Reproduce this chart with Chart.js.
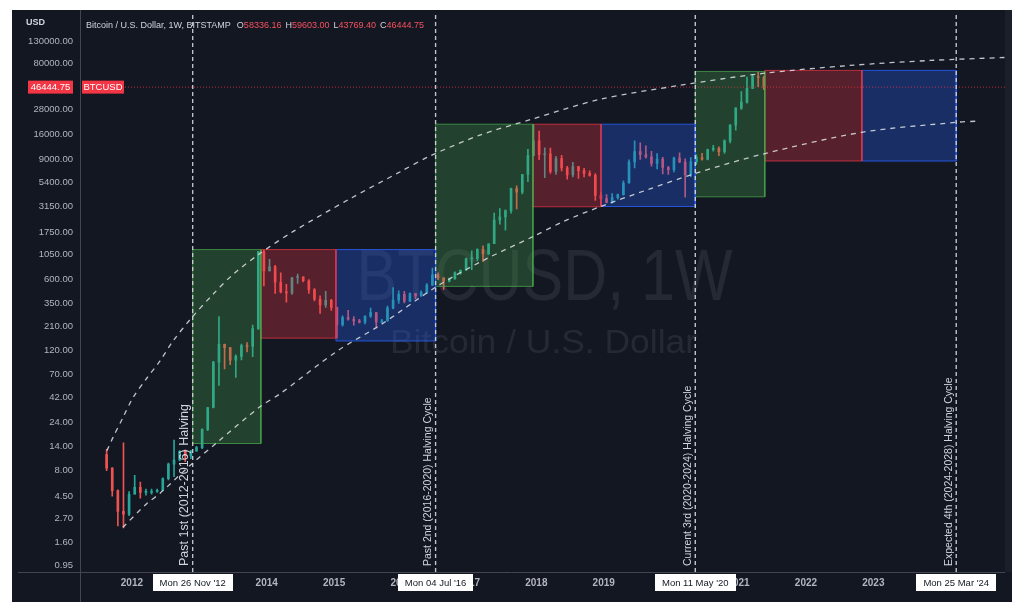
<!DOCTYPE html>
<html>
<head>
<meta charset="utf-8">
<title>BTCUSD 1W halving cycles</title>
<script src="https://cdn.jsdelivr.net/npm/chart.js@4.4.1/dist/chart.umd.min.js"></script>
<style>
  html, body { margin: 0; padding: 0; background: #ffffff; }
  #wrap { width: 1024px; height: 613px; }
</style>
</head>
<body>
<div id="wrap"><canvas id="chart" width="1024" height="613"></canvas></div>
<script>
const FONT = '"Liberation Sans", Arial, sans-serif';
const BG = '#131722';
const UP = '#26a69a';
const DOWN = '#ef5350';

// monthly candles
const months = [
  '2011-08', '2011-09', '2011-10', '2011-11', '2011-12',
  '2012-01', '2012-02', '2012-03', '2012-04', '2012-05', '2012-06', '2012-07', '2012-08', '2012-09', '2012-10', '2012-11', '2012-12',
  '2013-01', '2013-02', '2013-03', '2013-04', '2013-05', '2013-06', '2013-07', '2013-08', '2013-09', '2013-10', '2013-11', '2013-12',
  '2014-01', '2014-02', '2014-03', '2014-04', '2014-05', '2014-06', '2014-07', '2014-08', '2014-09', '2014-10', '2014-11', '2014-12',
  '2015-01', '2015-02', '2015-03', '2015-04', '2015-05', '2015-06', '2015-07', '2015-08', '2015-09', '2015-10', '2015-11', '2015-12',
  '2016-01', '2016-02', '2016-03', '2016-04', '2016-05', '2016-06', '2016-07', '2016-08', '2016-09', '2016-10', '2016-11', '2016-12',
  '2017-01', '2017-02', '2017-03', '2017-04', '2017-05', '2017-06', '2017-07', '2017-08', '2017-09', '2017-10', '2017-11', '2017-12',
  '2018-01', '2018-02', '2018-03', '2018-04', '2018-05', '2018-06', '2018-07', '2018-08', '2018-09', '2018-10', '2018-11', '2018-12',
  '2019-01', '2019-02', '2019-03', '2019-04', '2019-05', '2019-06', '2019-07', '2019-08', '2019-09', '2019-10', '2019-11', '2019-12',
  '2020-01', '2020-02', '2020-03', '2020-04', '2020-05', '2020-06', '2020-07', '2020-08', '2020-09', '2020-10', '2020-11', '2020-12',
  '2021-01', '2021-02', '2021-03', '2021-04', '2021-05'
];
const firstOpen = 11.5;
const closes = [
  8.5, 5.1, 3.2, 3.0, 4.7,
  5.5, 4.9, 4.9, 5.0, 5.15, 6.7, 9.3, 10.2, 12.4, 11.2, 12.5, 13.5,
  20.4, 33.4, 93, 139, 129, 97, 106, 135, 133, 198, 1130, 730,
  800, 565, 455, 445, 630, 640, 585, 480, 385, 338, 375, 320,
  217, 255, 245, 236, 230, 263, 285, 230, 236, 315, 377, 430,
  368, 437, 416, 448, 530, 670, 625, 575, 609, 700, 742, 960,
  965, 1190, 1075, 1350, 2300, 2480, 2850, 4700, 4330, 6450, 9900, 13800,
  10100, 10300, 6930, 9250, 7500, 6400, 7730, 7030, 6620, 6320, 4020, 3740,
  3440, 3820, 4100, 5320, 8560, 10800, 10100, 9600, 8300, 9150, 7550, 7200,
  9350, 8550, 6420, 8630, 9450, 9140, 11340, 11650, 10780, 13800, 19700, 28900,
  33100, 45200, 58800, 57700, 46444.75
];
const highs = [
  13, 8.6, 5.2, 15, 5,
  7.2, 6.2, 5.3, 5.3, 5.3, 6.8, 9.5, 16, 12.6, 12.8, 12.7, 13.9,
  20.6, 33.5, 95, 260, 140, 130, 110, 140, 145, 215, 1140, 1170,
  950, 830, 700, 540, 630, 680, 640, 600, 490, 415, 460, 385,
  320, 265, 300, 260, 245, 265, 315, 285, 245, 330, 500, 465,
  460, 445, 440, 465, 550, 780, 700, 625, 620, 715, 750, 975,
  1150, 1200, 1290, 1350, 2700, 2980, 2900, 4750, 4980, 6470, 11400, 19800,
  17200, 11800, 11700, 9750, 9950, 7750, 8500, 7760, 7400, 7000, 6600, 4300,
  4100, 4200, 4140, 5600, 9000, 13800, 13200, 12300, 10900, 10350, 9500, 7750,
  9550, 10500, 9200, 9450, 10050, 10400, 11450, 12450, 12050, 14100, 19900, 29300,
  41950, 58300, 61700, 64850, 59603
];
const lows = [
  8, 4.5, 2.3, 2.2, 2.9,
  4.7, 4.3, 4.6, 4.7, 4.9, 5.1, 6.5, 7, 10, 9.8, 10.5, 12.4,
  13.2, 19.8, 33, 55, 80, 88, 66, 98, 117, 105, 195, 520,
  730, 440, 445, 360, 430, 550, 570, 440, 370, 280, 320, 300,
  160, 210, 240, 215, 225, 220, 255, 200, 225, 235, 310, 350,
  355, 365, 390, 410, 440, 525, 600, 480, 570, 605, 680, 740,
  750, 915, 900, 1060, 1350, 2100, 1830, 2700, 2970, 4150, 5500, 9800,
  9000, 6000, 6600, 6450, 7000, 5800, 6100, 5900, 6100, 6200, 3600, 3140,
  3400, 3380, 3700, 4050, 5300, 7500, 9050, 9350, 7800, 7300, 6550, 6450,
  6850, 8450, 3870, 6150, 8100, 8900, 8950, 10950, 9850, 10400, 13200, 17600,
  28100, 32300, 44900, 47000, 43769.4
];
const lastPrice = 46444.75;

// axis
const yTicks = [0.95, 1.6, 2.7, 4.5, 8, 14, 24, 42, 70, 120, 210, 350, 600, 1050, 1750, 3150, 5400, 9000, 16000, 28000, 80000, 130000];
const years = [2012, 2013, 2014, 2015, 2016, 2017, 2018, 2019, 2020, 2021, 2022, 2023];
const X_MIN = 2011.23;
const X_MAX = 2024.953;
const Y_MIN = 0.812;
const Y_MAX = 249500;

// halving lines
const halvingDates = [2012.9016, 2016.5055, 2020.358, 2024.2295];
const halvingTexts = [
  'Past 1st (2012-2016) Halving',
  'Past 2nd (2016-2020) Halving Cycle',
  'Current 3rd (2020-2024) Halving Cycle',
  'Expected 4th (2024-2028) Halving Cycle'
];
const halvingTextSizes = [12.5, 10.5, 10.5, 10.5];
const halvingDateLabels = ["Mon 26 Nov '12", "Mon 04 Jul '16", "Mon 11 May '20", "Mon 25 Mar '24"];

// phase boxes per cycle: bull (green), bear (red), accumulation (blue)
const boxStart = [2012.9016, 2013.914, 2015.027, 2016.5055, 2017.95, 2018.96, 2020.358, 2021.39, 2022.83];
const boxEnd = [2013.914, 2015.027, 2016.5055, 2017.95, 2018.96, 2020.358, 2021.39, 2022.83, 2024.2295];
const boxLow = [14.8, 160, 150, 515, 3111, 3130, 3896, 8750, 8750];
const boxHigh = [1183, 1183, 1183, 20100, 20100, 20100, 66200, 67750, 67750];
const boxKind = ['bull', 'bear', 'accum', 'bull', 'bear', 'accum', 'bull', 'bear', 'accum'];

// dashed channel curves
const upperT = [2011.629, 2011.718, 2011.866, 2012.015, 2012.223, 2012.415, 2012.608, 2012.905, 2013.202, 2013.499, 2013.899, 2014.389, 2015.234, 2015.976, 2016.421, 2017.163, 2017.935, 2018.944, 2020.131, 2021.362, 2022.653, 2023.84, 2024.953];
const upperV = [12.6, 16.9, 26.5, 41.5, 65, 95, 149.5, 262, 430, 674, 1081, 1773, 3723, 6833, 9794, 15700, 22500, 35280, 48330, 63290, 75770, 84810, 90710];
const lowerT = [2011.866, 2012.223, 2012.415, 2012.861, 2013.276, 2013.899, 2014.196, 2015.042, 2015.68, 2016.525, 2017.237, 2017.95, 2018.395, 2018.944, 2019.686, 2020.383, 2021.362, 2022.846, 2024.255, 2024.537];
const lowerV = [2.23, 3.82, 4.79, 8.99, 15.4, 33.9, 45.4, 119, 214, 515, 944, 1585, 2220, 3111, 4662, 6681, 10240, 16800, 21030, 21510];

const boxStyle = {
  bull: { fill: 'rgba(76, 175, 80, 0.28)', line: 'rgba(76, 175, 80, 0.7)' },
  bear: { fill: 'rgba(242, 54, 69, 0.3)', line: 'rgba(242, 54, 69, 0.7)' },
  accum: { fill: 'rgba(41, 98, 255, 0.3)', line: 'rgba(41, 98, 255, 0.8)' }
};

const toT = (m) => {
  const [y, mo] = m.split('-').map(Number);
  return y + (mo - 0.5) / 12;
};
const opens = closes.map((c, i) => (i === 0 ? firstOpen : closes[i - 1]));
const candleColors = closes.map((c, i) => (c >= opens[i] ? UP : DOWN));

const datasets = [];

halvingDates.forEach((t) => {
  datasets.push({
    type: 'line',
    data: [{ x: t, y: Y_MIN }, { x: t, y: Y_MAX }],
    borderColor: 'rgba(222, 224, 230, 0.85)',
    borderWidth: 1.4,
    borderDash: [4, 3],
    pointRadius: 0,
    order: 0
  });
});

datasets.push({
  type: 'line',
  data: upperT.map((t, i) => ({ x: t, y: upperV[i] })),
  borderColor: 'rgba(225, 226, 232, 0.85)',
  borderWidth: 1.3,
  borderDash: [5, 5],
  pointRadius: 0,
  tension: 0.3,
  order: 1
});
datasets.push({
  type: 'line',
  data: lowerT.map((t, i) => ({ x: t, y: lowerV[i] })),
  borderColor: 'rgba(225, 226, 232, 0.85)',
  borderWidth: 1.3,
  borderDash: [5, 5],
  pointRadius: 0,
  tension: 0.3,
  order: 1
});
datasets.push({
  type: 'line',
  data: [{ x: X_MIN, y: lastPrice }, { x: X_MAX, y: lastPrice }],
  borderColor: 'rgba(242, 54, 69, 0.75)',
  borderWidth: 1,
  borderDash: [1, 2],
  pointRadius: 0,
  order: 1
});

boxStart.forEach((s, i) => {
  const e = boxEnd[i];
  const st = boxStyle[boxKind[i]];
  datasets.push({
    type: 'line',
    data: [
      { x: s, y: boxLow[i] }, { x: s, y: boxHigh[i] },
      { x: e, y: boxHigh[i] }, { x: e, y: boxLow[i] }, { x: s, y: boxLow[i] }
    ],
    fill: 'shape',
    backgroundColor: st.fill,
    borderColor: st.line,
    borderWidth: 1,
    pointRadius: 0,
    tension: 0,
    order: 2
  });
});

datasets.push({
  type: 'bar',
  data: months.map((m, i) => ({ x: toT(m), y: [opens[i], closes[i]] })),
  backgroundColor: candleColors,
  barThickness: 2,
  minBarLength: 1,
  grouped: false,
  borderWidth: 0,
  order: 3
});
datasets.push({
  type: 'bar',
  data: months.map((m, i) => ({ x: toT(m), y: [lows[i], highs[i]] })),
  backgroundColor: candleColors,
  barThickness: 1,
  grouped: false,
  borderWidth: 0,
  order: 4
});

function fitText(ctx, text, x, y, width) {
  const w = ctx.measureText(text).width;
  ctx.save();
  ctx.translate(x, y);
  ctx.scale(width / w, 1);
  ctx.fillText(text, 0, 0);
  ctx.restore();
}

const tvDecor = {
  id: 'tvDecor',
  beforeDraw(chart) {
    const { ctx, chartArea: a } = chart;
    ctx.save();
    ctx.fillStyle = '#ffffff';
    ctx.fillRect(0, 0, chart.width, chart.height);
    ctx.fillStyle = BG;
    ctx.fillRect(12, 10, 1000, 592);
    ctx.fillStyle = '#1b1f2a';
    ctx.fillRect(a.right, 10, 1012 - a.right, a.bottom - 10);

    // watermark
    const cx = (a.left + a.right) / 2;
    ctx.fillStyle = 'rgba(255, 255, 255, 0.08)';
    ctx.textAlign = 'center';
    ctx.textBaseline = 'alphabetic';
    ctx.font = `72px ${FONT}`;
    fitText(ctx, 'BTCUSD, 1W', cx + 2, a.top + 287, 376);
    ctx.font = `34px ${FONT}`;
    fitText(ctx, 'Bitcoin / U.S. Dollar', cx + 1, a.top + 340, 307);
    ctx.restore();
  },
  afterDraw(chart) {
    const { ctx, chartArea: a, scales } = chart;
    const xs = scales.x;
    const ys = scales.y;
    ctx.save();

    // pane separators
    ctx.strokeStyle = '#434651';
    ctx.lineWidth = 1;
    ctx.beginPath();
    ctx.moveTo(a.left + 0.5, 10);
    ctx.lineTo(a.left + 0.5, 602);
    ctx.moveTo(18, a.bottom + 0.5);
    ctx.lineTo(a.right, a.bottom + 0.5);
    ctx.stroke();

    // halving labels
    ctx.fillStyle = '#d1d4dc';
    ctx.textAlign = 'left';
    ctx.textBaseline = 'middle';
    halvingDates.forEach((t, i) => {
      const px = xs.getPixelForValue(t);
      ctx.save();
      ctx.font = `${halvingTextSizes[i]}px ${FONT}`;
      ctx.translate(px - 7 - (halvingTextSizes[i] - 10.5) / 2, a.bottom - 6);
      ctx.rotate(-Math.PI / 2);
      ctx.fillText(halvingTexts[i], 0, 0);
      ctx.restore();
    });

    // date flags on the time axis
    ctx.font = `9.5px ${FONT}`;
    ctx.textAlign = 'center';
    halvingDates.forEach((t, i) => {
      const px = xs.getPixelForValue(t);
      const w = ctx.measureText(halvingDateLabels[i]).width + 14;
      ctx.fillStyle = '#ffffff';
      ctx.fillRect(Math.round(px - w / 2), a.bottom + 2, Math.round(w), 17);
      ctx.fillStyle = '#131722';
      ctx.fillText(halvingDateLabels[i], px, a.bottom + 11);
    });

    // last price flags
    const py = ys.getPixelForValue(lastPrice);
    ctx.fillStyle = '#f23645';
    ctx.fillRect(28, py - 6.5, 45, 13);
    ctx.fillRect(a.left + 2, py - 6.5, 42, 13);
    ctx.fillStyle = '#ffffff';
    ctx.font = `9.5px ${FONT}`;
    ctx.fillText(lastPrice.toFixed(2), 50.5, py + 0.5);
    ctx.fillText('BTCUSD', a.left + 23, py + 0.5);

    // currency label
    ctx.fillStyle = '#d1d4dc';
    ctx.textAlign = 'left';
    ctx.font = `bold 9px ${FONT}`;
    ctx.fillText('USD', 26, 23);

    // legend line
    let x = a.left + 6;
    const ty = 26;
    ctx.font = `9px ${FONT}`;
    const title = 'Bitcoin / U.S. Dollar, 1W, BITSTAMP';
    ctx.fillStyle = '#d1d4dc';
    ctx.fillText(title, x, ty);
    x += ctx.measureText(title).width + 6;
    [['O', '58336.16'], ['H', '59603.00'], ['L', '43769.40'], ['C', '46444.75']].forEach(([k, v]) => {
      ctx.fillStyle = '#d1d4dc';
      ctx.fillText(k, x, ty);
      x += ctx.measureText(k).width;
      ctx.fillStyle = '#f7525f';
      ctx.fillText(v, x, ty);
      x += ctx.measureText(v).width + 4;
    });
    ctx.restore();
  }
};

new Chart(document.getElementById('chart'), {
  type: 'bar',
  data: { datasets },
  options: {
    responsive: false,
    animation: false,
    layout: { padding: { left: 12, right: 19, top: 10, bottom: 21 } },
    plugins: {
      legend: { display: false },
      tooltip: { enabled: false }
    },
    scales: {
      x: {
        type: 'linear',
        min: X_MIN,
        max: X_MAX,
        offset: false,
        grid: { display: false, drawTicks: false },
        border: { display: false },
        afterBuildTicks: (s) => { s.ticks = years.map((v) => ({ value: v })); },
        afterFit: (s) => { s.height = 20; },
        ticks: {
          autoSkip: false,
          maxRotation: 0,
          padding: 5,
          color: '#b2b5be',
          font: { family: FONT, size: 10, weight: 'bold' },
          callback: (v) => String(v)
        }
      },
      y: {
        type: 'logarithmic',
        position: 'left',
        min: Y_MIN,
        max: Y_MAX,
        grid: { display: false, drawTicks: false },
        border: { display: false },
        afterBuildTicks: (s) => { s.ticks = yTicks.map((v) => ({ value: v })); },
        afterFit: (s) => { s.width = 68; },
        ticks: {
          autoSkip: false,
          padding: 7,
          color: '#b2b5be',
          font: { family: FONT, size: 9.5 },
          callback: (v) => Number(v).toFixed(2)
        }
      }
    }
  },
  plugins: [tvDecor]
});
</script>
</body>
</html>
